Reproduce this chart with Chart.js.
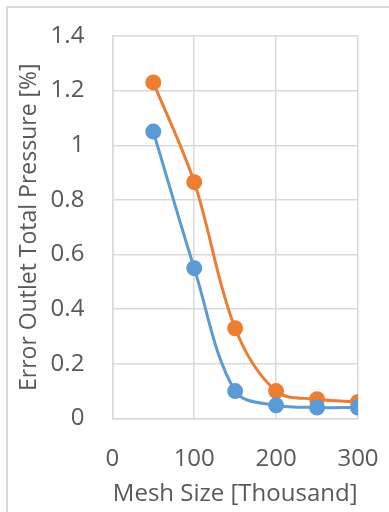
<!DOCTYPE html>
<html>
<head>
<meta charset="utf-8">
<script src="https://cdn.jsdelivr.net/npm/chart.js@4"></script>
<style>
  body { margin: 0; background: #fff; overflow: hidden; }
  #frame { position: absolute; left: 6px; top: 6px; width: 420px; height: 540px; border: 2px solid #d9d9d9; }
  #wrap { position: absolute; left: 0; top: 0; width: 389px; height: 512px; }
</style>
</head>
<body>
<div id="frame"></div>
<div id="wrap"><canvas id="myChart"></canvas></div>
<script>
// mesh size in thousands
var meshSize = [50, 100, 150, 200, 250, 300];
var blueError = [1.05, 0.55, 0.10, 0.048, 0.04, 0.04];
var orangeError = [1.23, 0.865, 0.33, 0.10, 0.07, 0.06];
var xTitle = "Mesh Size [Thousand]";
var yTitle = "Error Outlet Total Pressure [%]";

var textColor = "#595959";
var gridColor = "#d9d9d9";
var fontFamily = "'Open Sans', sans-serif";

function toPoints(xs, ys) {
  return xs.map(function (x, i) {
    return { x: x, y: ys[i] };
  });
}

const ctx = document.getElementById("myChart");

new Chart(ctx, {
  type: "line",
  data: {
    datasets: [
      {
        data: toPoints(meshSize, blueError),
        borderColor: "#5b9bd5",
        backgroundColor: "#5b9bd5",
        borderWidth: 3,
        pointRadius: 6.5,
        tension: 0.35,
      },
      {
        data: toPoints(meshSize, orangeError),
        borderColor: "#ed7d31",
        backgroundColor: "#ed7d31",
        borderWidth: 3,
        pointRadius: 6.5,
        tension: 0.35,
      },
    ],
  },
  options: {
    responsive: true,
    maintainAspectRatio: false,
    animation: false,
    layout: { padding: { top: 36, right: 31, left: 16, bottom: 3 } },
    plugins: { legend: { display: false }, tooltip: { enabled: false } },
    scales: {
      x: {
        type: "linear",
        min: 0,
        max: 300,
        // invisible tick marks give the label gap without the doubled padding
        ticks: { stepSize: 100, color: textColor, padding: 4, font: { family: fontFamily, size: 24 } },
        grid: { color: gridColor, lineWidth: 1.5, tickLength: 22, tickColor: "transparent" },
        border: { color: gridColor, width: 1.5 },
        title: { display: true, text: xTitle, color: textColor, padding: { top: 3, bottom: 0 }, font: { family: fontFamily, size: 24 } },
      },
      y: {
        min: 0,
        max: 1.4,
        ticks: {
          stepSize: 0.2,
          color: textColor,
          padding: 4,
          font: { family: fontFamily, size: 24 },
          callback: function (v) {
            return String(Math.round(v * 10) / 10);
          },
        },
        grid: { color: gridColor, lineWidth: 1.5, tickLength: 24, tickColor: "transparent" },
        border: { color: gridColor, width: 1.5 },
        title: { display: true, text: yTitle, color: textColor, padding: { top: 0, bottom: 3 }, font: { family: fontFamily, size: 23 } },
      },
    },
  },
});
</script>
</body>
</html>
